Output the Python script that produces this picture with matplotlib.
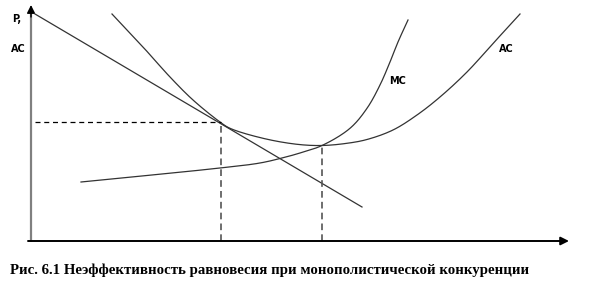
import numpy as np
import matplotlib
matplotlib.use("Agg")
import matplotlib.pyplot as plt

# Economic coordinates (Q, P); origin at axes crossing
demand_q = [4, 331]
demand_p = [227, 34]

ac_q = [81, 112, 139, 162, 189, 199, 232, 266, 291, 316, 336, 362, 386, 409, 436, 462, 489]
ac_p = [227, 194, 164, 141, 119, 112.7, 102.7, 96.7, 95.5, 97.7, 101.5, 111, 126, 144, 169, 197.5, 227]

mc_q = [50, 189, 229, 251, 269, 291, 319, 336, 349, 359, 367, 377]
mc_p = [59, 73, 78, 83, 88, 95.5, 112.7, 132.7, 156, 179, 199, 221]

eq_q = [190, 291]   # dashed verticals
eq_p = [119, 95.5]

labels = {"p": "P,", "ac_y": "AC", "mc": "MC", "ac": "AC"}
caption = "Рис. 6.1 Неэффективность равновесия при монополистической конкуренции"


def smooth(xs, ys, n=30, alpha=0.5):
    pts = np.column_stack([np.asarray(xs, float), np.asarray(ys, float)])
    pts = np.vstack([2 * pts[0] - pts[1], pts, 2 * pts[-1] - pts[-2]])
    out = []
    for i in range(1, len(pts) - 2):
        p0, p1, p2, p3 = pts[i - 1], pts[i], pts[i + 1], pts[i + 2]
        t0 = 0.0
        t1 = t0 + np.linalg.norm(p1 - p0) ** alpha
        t2 = t1 + np.linalg.norm(p2 - p1) ** alpha
        t3 = t2 + np.linalg.norm(p3 - p2) ** alpha
        t = np.linspace(t1, t2, n, endpoint=False)[:, None]
        a1 = (t1 - t) / (t1 - t0) * p0 + (t - t0) / (t1 - t0) * p1
        a2 = (t2 - t) / (t2 - t1) * p1 + (t - t1) / (t2 - t1) * p2
        a3 = (t3 - t) / (t3 - t2) * p2 + (t - t2) / (t3 - t2) * p3
        b1 = (t2 - t) / (t2 - t0) * a1 + (t - t0) / (t2 - t0) * a2
        b2 = (t3 - t) / (t3 - t1) * a2 + (t - t1) / (t3 - t1) * a3
        c = (t2 - t) / (t2 - t1) * b1 + (t - t1) / (t2 - t1) * b2
        out.append(c)
    out.append(pts[-2][None, :])
    out = np.vstack(out)
    return out[:, 0], out[:, 1]


fig = plt.figure(figsize=(6.02, 3.04), dpi=100)
ax = fig.add_axes([0, 0, 1, 1])
ax.set_xlim(-31, 571)
ax.set_ylim(-63, 241)
ax.axis("off")

# axes with arrows
ax.plot([0, 0], [-1, 228], color="#808080", lw=1.6, solid_capstyle="butt")
ax.annotate("", xy=(0, 236), xytext=(0, 224),
            arrowprops=dict(arrowstyle="-|>", color="black", lw=1.0,
                            mutation_scale=12, shrinkA=0, shrinkB=0))
ax.annotate("", xy=(538, 0), xytext=(-3, 0),
            arrowprops=dict(arrowstyle="-|>", color="black", lw=1.4,
                            mutation_scale=12, shrinkA=0, shrinkB=0))

lc = "#333333"
ax.plot(demand_q, demand_p, color=lc, lw=0.9)
x, y = smooth(ac_q, ac_p)
ax.plot(x, y, color=lc, lw=0.9)
x, y = smooth(mc_q, mc_p)
ax.plot(x, y, color=lc, lw=0.9)

ax.plot([demand_q[0], eq_q[0]], [eq_p[0], eq_p[0]], color="black", lw=0.9,
        dashes=(4, 3))
for q, p in zip(eq_q, eq_p):
    ax.plot([q, q], [0, p], color="#555555", lw=1.2, dashes=(4, 2.5))

bold = dict(fontsize=7, fontweight="bold", family="DejaVu Sans")
ax.text(-19, 222, labels["p"], ha="left", va="center", **bold)
ax.text(-20, 192, labels["ac_y"], ha="left", va="center", **bold)
ax.text(367, 160, labels["mc"], ha="center", va="center", **bold)
ax.text(475, 192, labels["ac"], ha="center", va="center", **bold)

ax.text(-21, -29, caption, ha="left", va="center", fontsize=10.7,
        fontweight="bold", family="Liberation Serif")

fig.savefig("out.png", dpi=100)
